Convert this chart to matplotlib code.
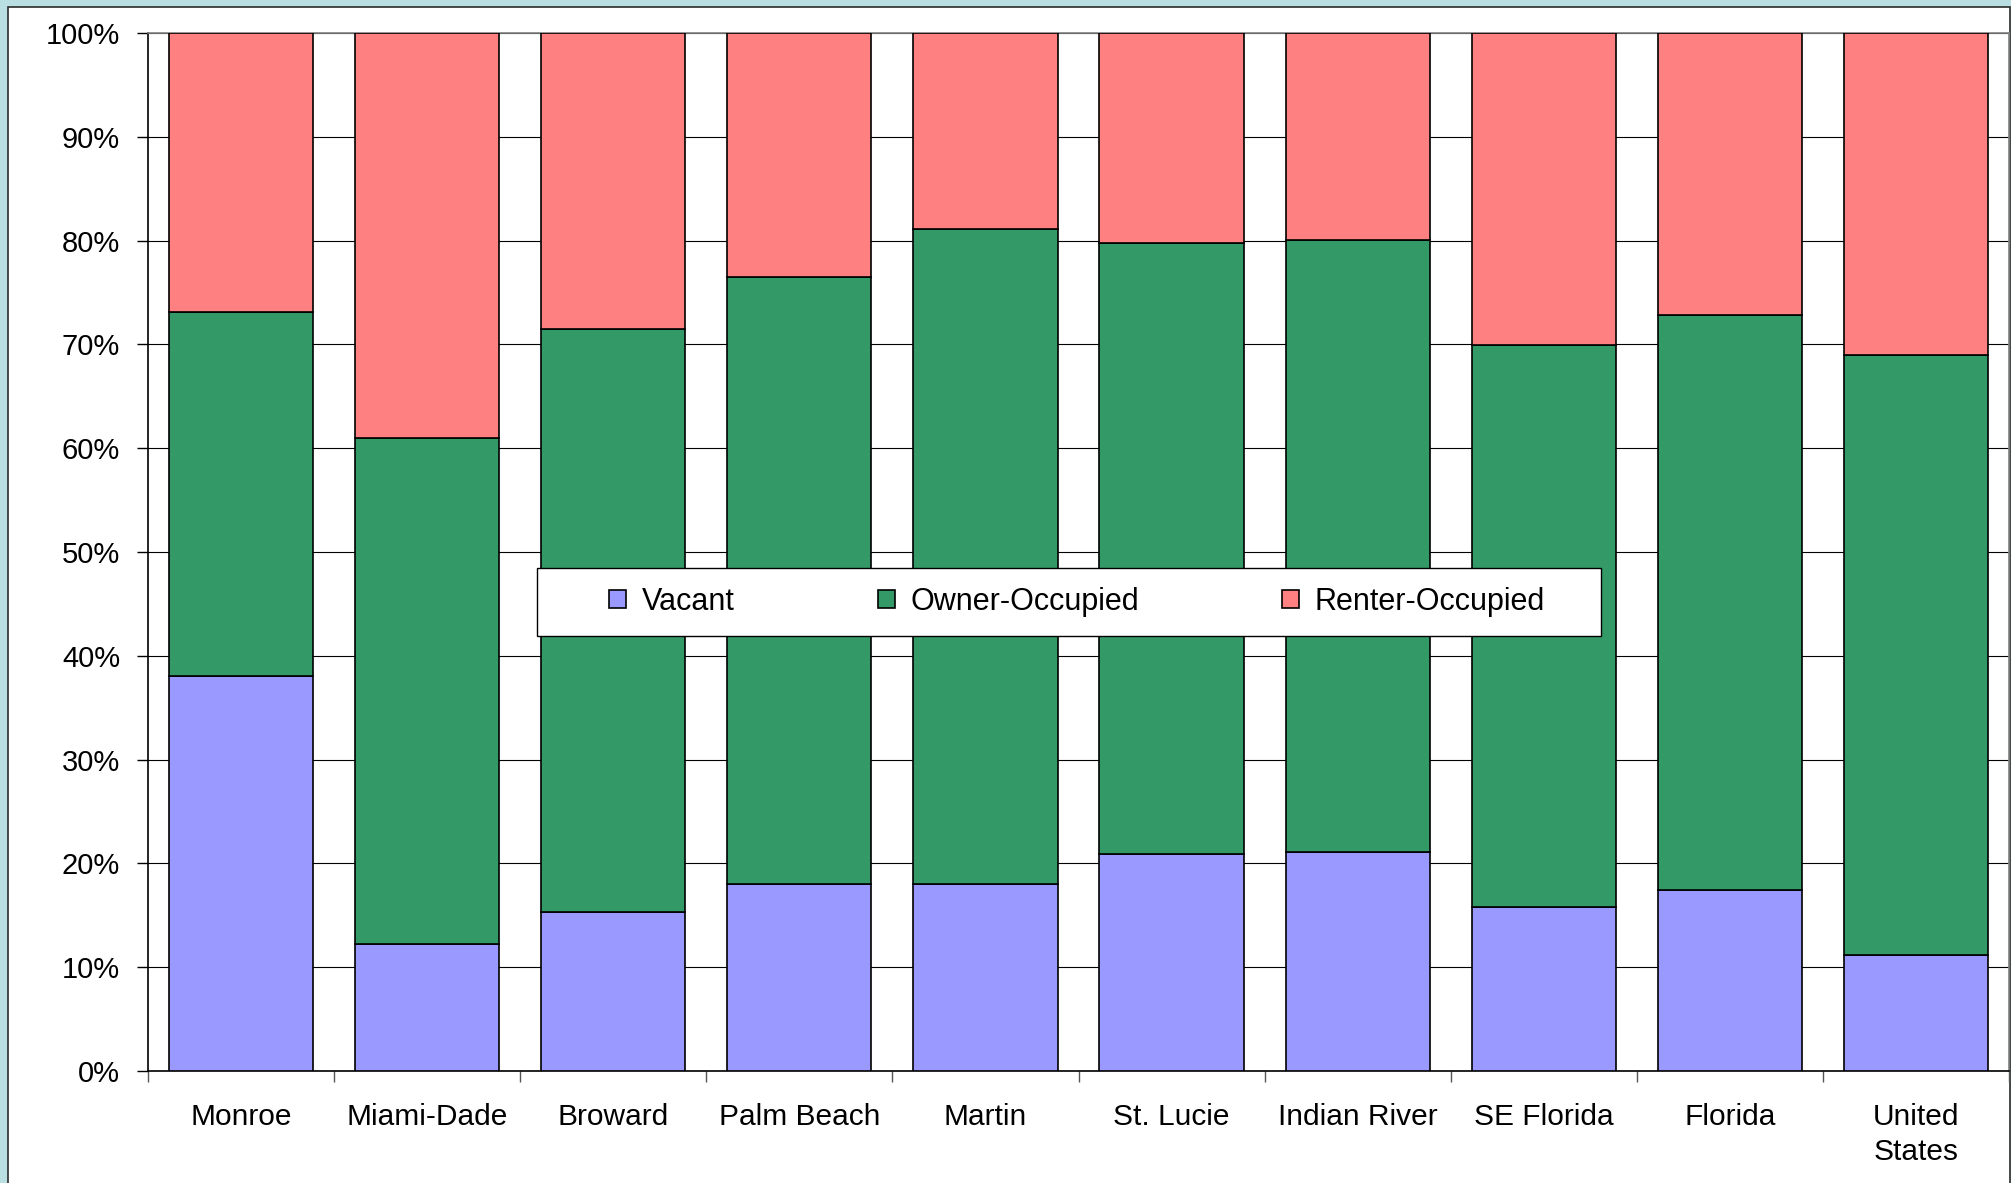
import matplotlib
matplotlib.use("Agg")
import matplotlib.pyplot as plt
from matplotlib.patches import Rectangle
import numpy as np

plt.rcParams['font.family'] = ['Liberation Sans', 'DejaVu Sans']

# housing occupancy shares, percent of all units
places = ["Monroe", "Miami-Dade", "Broward", "Palm Beach", "Martin",
          "St. Lucie", "Indian River", "SE Florida", "Florida", "United\nStates"]
vacant = [38.1, 12.2, 15.3, 18.0, 18.0, 20.9, 21.1, 15.8, 17.4, 11.2]
owner = [35.0, 48.8, 56.2, 58.5, 63.1, 58.9, 59.0, 54.1, 55.4, 57.8]
renter = [26.9, 39.0, 28.5, 23.5, 18.9, 20.2, 19.9, 30.1, 27.2, 31.0]
series_names = ["Vacant", "Owner-Occupied", "Renter-Occupied"]
colors = ["#9999FF", "#339966", "#FF8080"]

W, H = 2011, 1183
fig = plt.figure(figsize=(W / 100, H / 100), dpi=100)
fig.patch.set_facecolor("#B9DFE2")
# white chart area with a dark frame
frame = Rectangle((8 / W, -0.01), (2010 - 8) / W, (1176 + 12) / H,
                  transform=fig.transFigure, facecolor="white",
                  edgecolor="#2b2b2b", linewidth=1.2, zorder=-10)
fig.add_artist(frame)

ax = fig.add_axes([148 / W, 1 - 1071 / H, (2009 - 148) / W, (1071 - 33) / H])
ax.set_facecolor("white")

x = np.arange(len(places))
bottom = np.zeros(len(places))
for vals, name, col in zip([vacant, owner, renter], series_names, colors):
    ax.bar(x, vals, width=0.775, bottom=bottom, color=col, edgecolor="black",
           linewidth=1.2, label=name, zorder=3)
    bottom += np.array(vals)

ax.set_xlim(-0.5, len(places) - 0.5)
ax.set_ylim(0, 100)
ax.set_yticks(np.arange(0, 101, 10))
ax.set_yticklabels([f"{v}%" for v in range(0, 101, 10)])
ax.yaxis.grid(True, color="black", linewidth=0.8, zorder=0)
ax.set_axisbelow(True)

ax.set_xticks(x)
ax.set_xticklabels(places, linespacing=1.3)
ax.set_xticks(np.arange(-0.5, len(places), 1.0), minor=True)
ax.tick_params(axis="x", which="major", length=0, pad=23, labelsize=21.5)
ax.tick_params(axis="x", which="minor", length=8, width=1, color="#555555")
ax.tick_params(axis="y", length=8, width=1, pad=12, labelsize=21)

for side in ["left", "bottom"]:
    ax.spines[side].set_color("black")
    ax.spines[side].set_linewidth(1.2)
for side in ["top", "right"]:
    ax.spines[side].set_color("#808080")
    ax.spines[side].set_linewidth(1.2)

# legend box drawn separately so its padding can match the original
box = Rectangle((537 / W, 1 - 636 / H), (1601 - 537) / W, 68 / H,
                transform=fig.transFigure, facecolor="white",
                edgecolor="black", linewidth=1.0, zorder=4)
fig.add_artist(box)
handles, labels = ax.get_legend_handles_labels()
leg = fig.legend(handles, labels, loc="center", ncol=3,
                 bbox_to_anchor=(1077 / W, 1 - 602 / H),
                 frameon=False, fontsize=22,
                 handlelength=0.55, handleheight=0.55, handletextpad=0.5,
                 borderpad=0, columnspacing=4.7)
leg.set_zorder(5)

fig.savefig("out.png", dpi=100, facecolor=fig.get_facecolor())
